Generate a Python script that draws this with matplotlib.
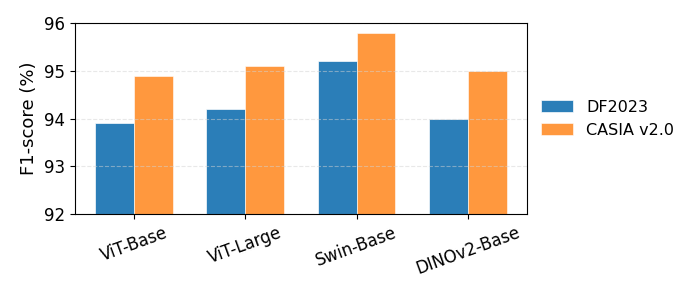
import numpy as np
import matplotlib
matplotlib.use("Agg")
import matplotlib.pyplot as plt

models = ["ViT-Base", "ViT-Large", "Swin-Base", "DINOv2-Base"]
df2023 = [93.9, 94.2, 95.2, 94.0]
casia = [94.9, 95.1, 95.8, 95.0]
yticks = [92, 93, 94, 95, 96]

x = np.arange(len(models))
w = 0.35

fig, ax = plt.subplots(figsize=(6.74, 2.81), dpi=100)
ax.bar(x - w / 2, df2023, w, label="DF2023", color="tab:blue", alpha=0.95, edgecolor="white", linewidth=0.5)
ax.bar(x + w / 2, casia, w, label="CASIA v2.0", color="tab:orange", alpha=0.8, edgecolor="white", linewidth=0.5)

ax.set_ylim(92, 96)
ax.set_yticks(yticks)
ax.set_xticks(x)
ax.set_xticklabels(models, rotation=20, fontsize=12)
ax.tick_params(axis="y", labelsize=12)
ax.set_ylabel("F1-score (%)", fontsize=13)
ax.yaxis.grid(True, linestyle="--", alpha=0.5, color="lightgray")
ax.legend(loc="center left", bbox_to_anchor=(1.0, 0.5), frameon=False, fontsize=11.5)

fig.subplots_adjust(left=0.111, right=0.782, top=0.918, bottom=0.238)
fig.savefig("out.png", dpi=100)
